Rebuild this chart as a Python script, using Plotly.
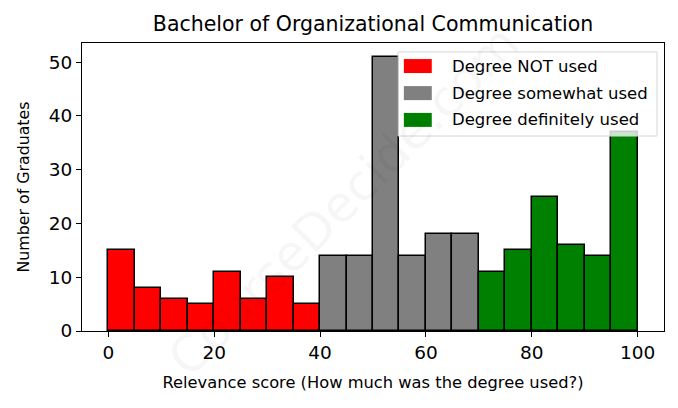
import plotly.graph_objects as go

# Bin left edges (width 5) and counts per group
not_used_bins = [0, 5, 10, 15, 20, 25, 30, 35]
not_used_counts = [15, 8, 6, 5, 11, 6, 10, 5]

somewhat_bins = [40, 45, 50, 55, 60, 65]
somewhat_counts = [14, 14, 51, 14, 18, 18]

definitely_bins = [70, 75, 80, 85, 90, 95]
definitely_counts = [11, 15, 25, 16, 14, 37]

BIN_WIDTH = 5
x_ticks = [0, 20, 40, 60, 80, 100]
y_ticks = [0, 10, 20, 30, 40, 50]

FONT = "DejaVu Sans"

fig = go.Figure()
groups = [
    ("Degree NOT used", not_used_bins, not_used_counts, "#ff0000"),
    ("Degree somewhat used", somewhat_bins, somewhat_counts, "#808080"),
    ("Degree definitely used", definitely_bins, definitely_counts, "#008000"),
]
for name, bins, counts, color in groups:
    fig.add_trace(go.Bar(
        x=[b + BIN_WIDTH / 2 for b in bins],
        y=counts,
        width=BIN_WIDTH,
        name=name,
        showlegend=False,
        marker=dict(color=color, line=dict(color="black", width=1.5)),
    ))

# watermark
fig.add_annotation(
    text="CourseDecide.com", x=0.45, y=0.45, xref="paper", yref="paper",
    showarrow=False, textangle=-45,
    font=dict(family=FONT, size=50, color="rgba(0,0,0,0.035)"),
)

# manual legend (matplotlib-style wide patches)
shapes = [dict(type="rect", xref="paper", yref="paper", x0=0.543, x1=0.988, y0=0.677, y1=0.969,
               fillcolor="rgba(255,255,255,0.8)", line=dict(color="#d6d6d6", width=1), layer="above")]
row_y = [0.920, 0.826, 0.733]
for (name, _, _, color), yy in zip(groups, row_y):
    shapes.append(dict(type="rect", xref="paper", yref="paper", x0=0.553, x1=0.601,
                       y0=yy - 0.0243, y1=yy + 0.0243, fillcolor=color,
                       line=dict(width=0), layer="above"))
    fig.add_annotation(text=name, x=0.632, y=yy, xref="paper", yref="paper",
                       xanchor="left", yanchor="middle", showarrow=False,
                       font=dict(family=FONT, size=16.5, color="black"))

axis_common = dict(
    showline=True, linecolor="black", linewidth=1.2, mirror=True,
    ticks="outside", ticklen=5, tickwidth=1.2, tickcolor="black",
    showgrid=False, zeroline=False,
    tickfont=dict(family=FONT, size=18.5, color="black"),
)

fig.update_layout(
    width=670, height=400,
    margin=dict(l=74, r=14, t=35, b=77),
    paper_bgcolor="white", plot_bgcolor="white",
    barmode="overlay", bargap=0,
    shapes=shapes,
    title=dict(text="Bachelor of Organizational Communication", x=0.5, xanchor="center",
               xref="paper", y=1 - 16 / 400, yanchor="middle",
               font=dict(family=FONT, size=20.5, color="black")),
    xaxis=dict(range=[-5, 105], tickvals=x_ticks, **axis_common,
               title=dict(text="Relevance score (How much was the degree used?)", standoff=14,
                          font=dict(family=FONT, size=16.3, color="black"))),
    yaxis=dict(range=[0, 53.55], tickvals=y_ticks, **axis_common,
               title=dict(text="Number of Graduates", standoff=15,
                          font=dict(family=FONT, size=15.8, color="black"))),
    showlegend=False,
)

fig.write_html("out.html")
